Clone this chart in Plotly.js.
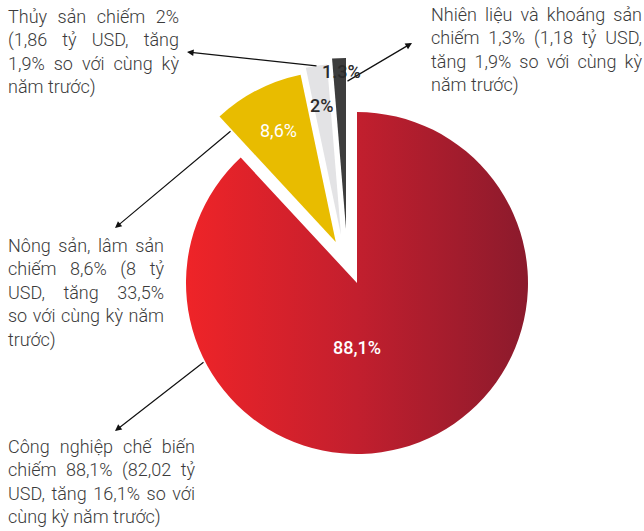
<!DOCTYPE html>
<html><head><meta charset="utf-8">
<script src="https://cdn.plot.ly/plotly-3.0.1.min.js"></script>
<style>html,body{margin:0;padding:0;background:#fff}</style>
</head><body><div id="chart" style="width:644px;height:531px"></div>
<script>
// ---- data ----
const categories = ['Công nghiệp chế biến', 'Nông sản, lâm sản', 'Thủy sản', 'Nhiên liệu và khoáng sản'];
const shares = [88.1, 8.6, 2, 1.3];
const shareLabels = ['88,1%', '8,6%', '2%', '1.3%'];
const descIndustry = ['Công nghiệp chế biến', 'chiếm 88,1% (82,02 tỷ', 'USD, tăng 16,1% so với', 'cùng kỳ năm trước)'];
const descAgri = ['Nông sản, lâm sản', 'chiếm 8,6% (8 tỷ', 'USD, tăng 33,5%', 'so với cùng kỳ năm', 'trước)'];
const descFish = ['Thủy sản chiếm 2%', '(1,86 tỷ USD, tăng', '1,9% so với cùng kỳ', 'năm trước)'];
const descFuel = ['Nhiên liệu và khoáng sản', 'chiếm 1,3% (1,18 tỷ USD,', 'tăng 1,9% so với cùng kỳ', 'năm trước)'];

// ---- style ----
const W = 644, H = 531, R = 171;
const sliceColors = ['#c01f2e', '#e8bc00', '#e3e3e5', '#3d3d3d'];
const T = 'rgba(0,0,0,0)';
function dom(cx, cy, half) {
  return {x: [(cx - half) / W, (cx + half) / W], y: [(H - (cy + half)) / H, (H - (cy - half)) / H]};
}
const yellowPull = 0.27;
function pieTrace(visibleIdx, cx, cy, pulls) {
  const maxPull = Math.max(...pulls);
  return {
    type: 'pie', values: shares, labels: categories, sort: false,
    direction: 'clockwise', rotation: 0, textinfo: 'none', hoverinfo: 'skip',
    showlegend: false, pull: pulls,
    marker: {colors: sliceColors.map((c, i) => visibleIdx.includes(i) ? c : T), line: {width: 0}},
    domain: dom(cx, cy, R * (1 + maxPull))
  };
}
const data = [
  pieTrace([0, 1], 357, 283, [0, yellowPull, 0, 0]),
  pieTrace([2], 341, 235, [0, 0, 0, 0]),
  pieTrace([3], 346, 229, [0, 0, 0, 0])
];

const txtFont = {family: 'Roboto', size: 18, color: '#3b3b3b', weight: 300};
function block(lines, x, y) {
  return {xref: 'paper', yref: 'paper', x: x / W, y: 1 - y / H, xanchor: 'left', yanchor: 'top',
    align: 'left', showarrow: false, text: lines.join('<br>'), font: txtFont};
}
function arrow(hx, hy, tx, ty) {
  return {xref: 'paper', yref: 'paper', x: hx / W, y: 1 - hy / H, ax: tx - hx, ay: ty - hy,
    text: '', showarrow: true, arrowhead: 2, arrowsize: 1.1, arrowwidth: 1.2, arrowcolor: '#111', standoff: 0};
}
function pct(i, x, y, color, weight) {
  return {xref: 'paper', yref: 'paper', x: x / W, y: 1 - y / H, xanchor: 'center', yanchor: 'middle',
    showarrow: false, text: shareLabels[i], font: {family: 'Roboto', size: 18, color: color, weight: weight}};
}
const annotations = [
  block(descFish, 6, 4),
  block(descFuel, 429, 2),
  block(descAgri, 6, 233),
  block(descIndustry, 6, 434),
  arrow(187, 52, 318, 66),
  arrow(412, 43, 346, 82),
  arrow(115, 228, 232, 130),
  arrow(115, 431, 205, 361),
  pct(0, 357, 347, '#ffffff', 500),
  pct(1, 278, 130, '#ffffff', 400),
  pct(2, 321, 105, '#2b2b2b', 500),
  pct(3, 341, 72, '#2b2b2b', 500)
];
const justifyWidths = [171, 211, 156, 187];

const layout = {width: W, height: H, margin: {l: 0, r: 0, t: 0, b: 0},
  paper_bgcolor: '#fff', font: {family: 'Roboto'}, annotations: annotations};

Plotly.newPlot('chart', data, layout, {displayModeBar: false, staticPlot: true}).then(function (gd) {
  // gradient on the big red slice
  const svg = gd.querySelector('.main-svg');
  const ns = 'http://www.w3.org/2000/svg';
  let defs = svg.querySelector('defs');
  const lg = document.createElementNS(ns, 'linearGradient');
  lg.setAttribute('id', 'redGrad');
  lg.setAttribute('x1', '0'); lg.setAttribute('y1', '0'); lg.setAttribute('x2', '1'); lg.setAttribute('y2', '0');
  [['0', '#ef2428'], ['0.5', '#c21f2e'], ['1', '#8b1a2c']].forEach(function (s) {
    const st = document.createElementNS(ns, 'stop');
    st.setAttribute('offset', s[0]); st.setAttribute('stop-color', s[1]);
    lg.appendChild(st);
  });
  defs.appendChild(lg);
  const firstTrace = gd.querySelector('.pielayer .trace');
  const redPath = firstTrace.querySelector('.slice path.surface');
  redPath.style.fill = 'url(#redGrad)';
  // justify description text lines (first four annotations are the text blocks)
  const texts = gd.querySelectorAll('.annotation-text');
  for (let bi = 0; bi < justifyWidths.length && bi < texts.length; bi++) {
    const target = justifyWidths[bi];
    const lines = texts[bi].querySelectorAll('tspan.line');
    lines.forEach(function (ln, k) {
      if (k === lines.length - 1) return;
      const n = (ln.textContent.match(/ /g) || []).length;
      if (!n) return;
      const w = ln.getComputedTextLength();
      ln.style.wordSpacing = ((target - w) / n) + 'px';
    });
  }
});
</script></body></html>
